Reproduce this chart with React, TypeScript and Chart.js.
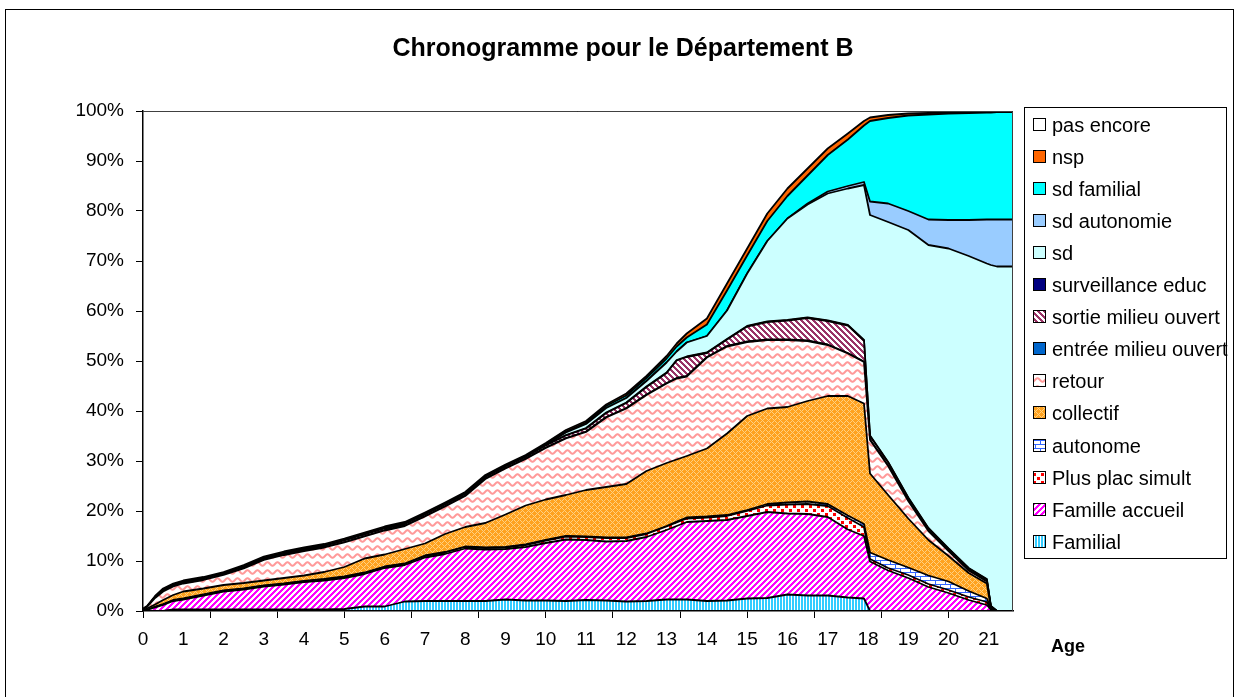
import { useEffect, useRef } from 'react';
import { Chart, registerables } from 'chart.js';

Chart.register(...registerables);

const FONT = "'Liberation Sans', Arial, Helvetica, sans-serif";
const TITLE = 'Chronogramme pour le Département B';
const AXIS_TITLE_X = 'Age';

// x positions (age in years)
const ages = [0, 0.1, 0.3, 0.5, 0.75, 1, 1.5, 2, 2.5, 3, 3.5, 4, 4.5, 5, 5.5, 6, 6.5, 7, 7.5, 8, 8.5, 9, 9.5, 10, 10.5, 11, 11.5, 12, 12.5, 13, 13.25, 13.5, 14, 14.5, 15, 15.5, 16, 16.5, 17, 17.5, 17.9, 18.05, 18.5, 19, 19.5, 20, 20.5, 20.95, 21.05, 21.2, 21.6];

// tick labels on the age axis
const ageLabels = [0, 1, 2, 3, 4, 5, 6, 7, 8, 9, 10, 11, 12, 13, 14, 15, 16, 17, 18, 19, 20, 21];
const tickMarkMonths = 20;
const yTicks = [0, 10, 20, 30, 40, 50, 60, 70, 80, 90, 100];

// series values (% of the cohort), bottom of the stack first
const familial = [0, 0, 0, 0, 0.3, 0.3, 0.3, 0.3, 0.3, 0.3, 0.3, 0.3, 0.3, 0.4, 0.9, 0.9, 1.9, 2.0, 2.0, 2.0, 2.0, 2.3, 2.1, 2.1, 2.0, 2.2, 2.1, 1.9, 2.0, 2.3, 2.3, 2.3, 2.0, 2.1, 2.5, 2.6, 3.3, 3.1, 3.1, 2.7, 2.5, 0, 0, 0, 0, 0, 0, 0, 0, 0, 0];
const familleAccueil = [0, 0.2, 0.7, 1.2, 1.7, 2.0, 2.8, 3.6, 4.0, 4.6, 5.0, 5.5, 5.8, 6.2, 6.5, 7.7, 7.3, 8.7, 9.4, 10.5, 10.3, 10.1, 10.7, 11.5, 12.3, 12.0, 11.8, 12.1, 12.8, 13.9, 14.7, 15.5, 16.0, 16.1, 16.5, 17.2, 16.2, 16.3, 15.7, 13.6, 12.5, 9.9, 8.1, 6.6, 4.8, 3.6, 2.2, 1.2, 0.3, 0, 0];
const plusPlacSimult = [0, 0, 0.1, 0.1, 0.1, 0.1, 0.1, 0.1, 0.1, 0.1, 0.1, 0.1, 0.2, 0.2, 0.2, 0.2, 0.2, 0.3, 0.3, 0.3, 0.3, 0.3, 0.4, 0.5, 0.6, 0.6, 0.7, 0.6, 0.6, 0.7, 0.7, 0.7, 0.7, 0.8, 1.0, 1.3, 1.8, 2.0, 2.2, 2.3, 1.8, 0.5, 0.5, 0.6, 0.6, 0.6, 0.6, 0.6, 0.1, 0, 0];
const autonome = [0, 0, 0.1, 0.1, 0.1, 0.1, 0.1, 0.1, 0.1, 0.1, 0.1, 0.1, 0.1, 0.1, 0.1, 0.1, 0.1, 0.1, 0.1, 0.1, 0.1, 0.1, 0.1, 0.1, 0.1, 0.1, 0.1, 0.1, 0.1, 0.1, 0.2, 0.2, 0.2, 0.2, 0.2, 0.3, 0.4, 0.5, 0.4, 0.5, 0.6, 1.3, 1.6, 1.5, 1.7, 1.7, 1.2, 0.7, 0.2, 0, 0];
const collectif = [0, 0.3, 0.4, 0.8, 1.0, 1.4, 1.2, 1.1, 1.1, 1.0, 1.1, 1.1, 1.4, 1.9, 2.8, 2.4, 2.9, 2.4, 3.6, 3.9, 4.9, 6.5, 7.8, 8.1, 8.2, 9.3, 10.1, 10.7, 12.5, 12.6, 12.4, 12.3, 13.6, 16.3, 18.8, 19.1, 19.1, 20.1, 21.6, 23.9, 24.1, 15.8, 13.0, 9.8, 7.1, 5.1, 3.6, 3.0, 0.1, 0, 0];
const retour = [0.3, 0.3, 1.3, 1.7, 1.7, 1.6, 1.7, 2.0, 2.9, 4.1, 4.6, 4.9, 4.9, 4.9, 4.4, 4.8, 4.6, 5.4, 5.5, 6.2, 8.8, 9.2, 9.3, 10.3, 11.3, 11.6, 13.9, 15.1, 15.2, 15.9, 16.2, 15.9, 18.2, 17.4, 14.8, 13.7, 13.4, 12.0, 10.2, 8.5, 8.3, 6.7, 5.8, 3.5, 1.8, 1.0, 0.5, 0.4, 0.1, 0, 0];
const entreeMilieuOuvert = [0, 0, 0.1, 0.1, 0.1, 0.1, 0.1, 0.1, 0.1, 0.1, 0.1, 0.1, 0.1, 0.1, 0.1, 0.1, 0.1, 0.1, 0.1, 0.1, 0.1, 0.1, 0.1, 0.1, 0.1, 0.1, 0.1, 0.1, 0.1, 0.1, 0.1, 0.1, 0.1, 0.1, 0.1, 0.1, 0.1, 0.1, 0.1, 0.1, 0.1, 0.1, 0.1, 0.1, 0.1, 0.1, 0.1, 0.1, 0.1, 0, 0];
const sortieMilieuOuvert = [0, 0, 0.1, 0.2, 0.2, 0.2, 0.2, 0.2, 0.2, 0.2, 0.2, 0.2, 0.2, 0.3, 0.3, 0.3, 0.3, 0.3, 0.3, 0.3, 0.3, 0.3, 0.3, 0.4, 0.5, 0.6, 0.8, 1.0, 1.5, 2.0, 3.5, 3.8, 0.8, 1.3, 3.0, 3.5, 3.8, 4.5, 4.7, 5.5, 4.2, 0.7, 0.6, 0.5, 0.4, 0.3, 0.3, 0.3, 0.1, 0, 0];
const surveillanceEduc = [0, 0, 0, 0.1, 0.1, 0.1, 0.1, 0.1, 0.1, 0.1, 0.1, 0.1, 0.1, 0.1, 0.1, 0.1, 0.1, 0.1, 0.1, 0.1, 0.1, 0.1, 0.1, 0.1, 0.1, 0.1, 0.1, 0.1, 0.1, 0.1, 0.1, 0.1, 0.1, 0.1, 0.1, 0.1, 0.1, 0.1, 0.1, 0.1, 0.1, 0.1, 0.1, 0.1, 0.1, 0.1, 0.1, 0.1, 0, 0, 0];
const sd = [0, 0, 0, 0, 0, 0, 0, 0, 0, 0, 0, 0, 0, 0, 0, 0, 0, 0, 0, 0, 0, 0, 0, 0, 0.5, 0.8, 0.9, 0.9, 1.1, 2.0, 1.7, 2.8, 3.3, 5.7, 10.5, 16.1, 20.3, 22.6, 25.4, 27.3, 31.0, 44.1, 48.0, 53.5, 56.6, 60.0, 62.4, 63.1, 68.2, 68.9, 68.9];
const sdAutonomie = [0, 0, 0, 0, 0, 0, 0, 0, 0, 0, 0, 0, 0, 0, 0, 0, 0, 0, 0, 0, 0, 0, 0, 0, 0, 0, 0, 0, 0, 0, 0, 0, 0, 0, 0, 0, 0, 0.2, 0.4, 0.5, 0.6, 2.7, 3.7, 3.8, 5.1, 5.7, 7.2, 8.8, 9.1, 9.4, 9.4];
const sdFamilial = [0, 0, 0, 0, 0, 0, 0, 0, 0, 0, 0, 0, 0, 0, 0, 0, 0, 0, 0, 0, 0, 0, 0, 0.1, 0.2, 0.3, 0.4, 0.5, 0.6, 0.8, 1.0, 1.0, 2.3, 4.0, 3.6, 4.0, 4.5, 5.6, 7.3, 9.3, 11.3, 16.1, 17.1, 19.1, 21.0, 21.3, 21.4, 21.4, 21.4, 21.5, 21.5];
const nsp = [0.2, 0.2, 0.2, 0.2, 0.2, 0.2, 0.2, 0.2, 0.3, 0.3, 0.3, 0.3, 0.3, 0.3, 0.3, 0.3, 0.3, 0.3, 0.3, 0.3, 0.3, 0.3, 0.3, 0.3, 0.3, 0.3, 0.3, 0.4, 0.4, 0.5, 0.6, 0.8, 1.2, 1.4, 1.4, 1.5, 1.5, 1.4, 1.3, 1.2, 0.9, 0.7, 0.6, 0.4, 0.3, 0.2, 0.2, 0.2, 0.2, 0.2, 0.2];
const pasEncore = [99.5, 99.0, 97.0, 95.5, 94.5, 93.9, 93.2, 92.2, 90.8, 89.1, 88.1, 87.3, 86.6, 85.5, 84.3, 83.1, 82.2, 80.3, 78.3, 76.2, 72.8, 70.7, 68.8, 66.4, 63.8, 62.0, 58.7, 56.5, 53.0, 49.0, 46.5, 44.5, 41.5, 34.5, 27.5, 20.5, 15.5, 11.5, 7.5, 4.5, 2.0, 1.3, 0.8, 0.5, 0.4, 0.3, 0.2, 0.1, 0.1, 0, 0];

function tile(w: number, h: number, draw: (g: CanvasRenderingContext2D) => void): CanvasPattern | string {
  const c = document.createElement('canvas');
  c.width = w;
  c.height = h;
  const g = c.getContext('2d');
  if (!g) return '#ccc';
  draw(g);
  return g.createPattern(c, 'repeat') || '#ccc';
}

function pixels(w: number, h: number, pick: (x: number, y: number) => string) {
  return tile(w, h, (g) => {
    for (let x = 0; x < w; x++) {
      for (let y = 0; y < h; y++) {
        g.fillStyle = pick(x, y);
        g.fillRect(x, y, 1, 1);
      }
    }
  });
}

function makeFills() {
  return {
    familial: tile(3, 2, (g) => {
      g.fillStyle = '#FFFFFF';
      g.fillRect(0, 0, 3, 2);
      g.fillStyle = '#33CCFF';
      g.fillRect(0, 0, 2, 2);
    }),
    familleAccueil: pixels(6, 6, (x, y) => ((x + y) % 6 < 3 ? '#FF00FF' : '#FFFFFF')),
    plusPlac: tile(8, 8, (g) => {
      g.fillStyle = '#FFFFFF';
      g.fillRect(0, 0, 8, 8);
      g.fillStyle = '#FF0000';
      g.fillRect(1, 1, 3, 3);
      g.fillRect(5, 5, 3, 3);
    }),
    autonome: tile(10, 8, (g) => {
      g.fillStyle = '#FFFFFF';
      g.fillRect(0, 0, 10, 8);
      g.fillStyle = '#3366FF';
      g.fillRect(0, 0, 10, 1);
      g.fillRect(0, 4, 10, 1);
      g.fillRect(0, 0, 1, 4);
      g.fillRect(5, 4, 1, 4);
    }),
    collectif: pixels(6, 6, (x, y) => ((x + y) % 6 === 0 || (x - y + 6) % 6 === 0 ? '#FFD080' : '#FFA21F')),
    retour: tile(10, 8, (g) => {
      g.fillStyle = '#FFFFFF';
      g.fillRect(0, 0, 10, 8);
      g.strokeStyle = '#FF9999';
      g.lineWidth = 2;
      g.lineJoin = 'round';
      g.beginPath();
      for (let i = -2; i <= 22; i++) {
        const x = i * 0.5;
        const y = 4 + 1.8 * Math.sin((2 * Math.PI * x) / 10);
        if (i === -2) g.moveTo(x, y);
        else g.lineTo(x, y);
      }
      g.stroke();
    }),
    sortie: pixels(6, 6, (x, y) => ((x - y + 6) % 6 < 3 ? '#993366' : '#FFFFFF')),
  };
}

function isMark(v: number | undefined) {
  if (v === undefined || v === null) return false;
  const k = (v * 12) / tickMarkMonths;
  return Math.abs(k - Math.round(k)) < 1e-6;
}

export default function App() {
  const ref = useRef<HTMLCanvasElement>(null);

  useEffect(() => {
    const canvas = ref.current;
    if (!canvas) return;
    const f = makeFills();

    const series: { label: string; values: number[]; fill: any }[] = [
      { label: 'Familial', values: familial, fill: f.familial },
      { label: 'Famille accueil', values: familleAccueil, fill: f.familleAccueil },
      { label: 'Plus plac simult', values: plusPlacSimult, fill: f.plusPlac },
      { label: 'autonome', values: autonome, fill: f.autonome },
      { label: 'collectif', values: collectif, fill: f.collectif },
      { label: 'retour', values: retour, fill: f.retour },
      { label: 'entrée milieu ouvert', values: entreeMilieuOuvert, fill: '#0066CC' },
      { label: 'sortie milieu ouvert', values: sortieMilieuOuvert, fill: f.sortie },
      { label: 'surveillance educ', values: surveillanceEduc, fill: '#000080' },
      { label: 'sd', values: sd, fill: '#CCFFFF' },
      { label: 'sd autonomie', values: sdAutonomie, fill: '#99CCFF' },
      { label: 'sd familial', values: sdFamilial, fill: '#00FFFF' },
      { label: 'nsp', values: nsp, fill: '#FF6600' },
      { label: 'pas encore', values: pasEncore, fill: '#FFFFFF' },
    ];

    const maxAge = ages[ages.length - 1];

    const decor = {
      id: 'decor',
      afterDraw(chart: any) {
        const { ctx, chartArea: a } = chart;
        ctx.save();
        // plot area frame (top & right)
        ctx.strokeStyle = '#404040';
        ctx.lineWidth = 1;
        ctx.beginPath();
        ctx.moveTo(a.left, a.top + 0.5);
        ctx.lineTo(a.right - 0.5, a.top + 0.5);
        ctx.lineTo(a.right - 0.5, a.bottom);
        ctx.stroke();
        // outer frame
        ctx.strokeStyle = '#000';
        ctx.strokeRect(5.5, 9.5, 1228, 700);
        // title
        ctx.fillStyle = '#000';
        ctx.textAlign = 'center';
        ctx.textBaseline = 'alphabetic';
        ctx.font = `bold 25px ${FONT}`;
        ctx.fillText(TITLE, 623, 56);
        // x axis title
        ctx.font = `bold 18px ${FONT}`;
        ctx.textBaseline = 'middle';
        ctx.fillText(AXIS_TITLE_X, 1068, 647);
        // legend
        ctx.strokeStyle = '#000';
        ctx.strokeRect(1024.5, 107.5, 202, 451);
        ctx.font = `20px ${FONT}`;
        ctx.textAlign = 'left';
        ctx.textBaseline = 'middle';
        const ds = [...chart.data.datasets].reverse();
        ds.forEach((d: any, i: number) => {
          const y = Math.round(125 + i * 32.05);
          ctx.fillStyle = d.backgroundColor;
          ctx.fillRect(1034, y - 6, 11, 11);
          ctx.strokeStyle = '#000';
          ctx.strokeRect(1033.5, y - 6.5, 12, 12);
          ctx.fillStyle = '#000';
          ctx.fillText(d.label, 1052, y + 1);
        });
        ctx.restore();
      },
    };

    const chart = new Chart(canvas, {
      type: 'line',
      data: {
        datasets: series.map((s, i) => ({
          label: s.label,
          data: ages.map((a, j) => ({ x: a, y: s.values[j] })),
          backgroundColor: s.fill,
          borderColor: '#000',
          borderWidth: 1.8,
          pointRadius: 0,
          tension: 0,
          fill: i === 0 ? 'origin' : '-1',
        })),
      },
      options: {
        animation: false,
        responsive: false,
        maintainAspectRatio: false,
        devicePixelRatio: 1,
        events: [],
        layout: { padding: { left: 0, top: 111, right: 226, bottom: 26 } },
        elements: { line: { borderJoinStyle: 'round' } },
        plugins: {
          legend: { display: false },
          tooltip: { enabled: false },
          title: { display: false },
        },
        scales: {
          x: {
            type: 'linear',
            min: 0,
            max: maxAge,
            afterBuildTicks: (scale: any) => {
              const vals: number[] = [...ageLabels];
              for (let m = 0; m / 12 <= maxAge + 1e-9; m += tickMarkMonths) {
                const v = m / 12;
                if (!vals.some((u) => Math.abs(u - v) < 1e-6)) vals.push(v);
              }
              vals.sort((p, q) => p - q);
              scale.ticks = vals.map((v) => ({ value: v }));
            },
            afterFit: (scale: any) => {
              scale.height = 60;
            },
            ticks: {
              autoSkip: false,
              maxRotation: 0,
              minRotation: 0,
              padding: 10,
              color: '#000',
              font: { family: FONT, size: 19 },
              callback: (v: any) => (ageLabels.includes(v) ? String(v) : ''),
            },
            grid: {
              z: 1,
              drawOnChartArea: false,
              drawTicks: true,
              tickLength: 7,
              tickWidth: 1,
              tickColor: (c: any) => (isMark(c.tick && c.tick.value) ? '#000' : 'rgba(0,0,0,0)'),
            },
            border: { display: true, color: '#000', width: 1.5, z: 2 },
          },
          y: {
            type: 'linear',
            stacked: true,
            min: 0,
            max: 100,
            afterBuildTicks: (scale: any) => {
              scale.ticks = yTicks.map((v) => ({ value: v }));
            },
            afterFit: (scale: any) => {
              scale.width = 143;
            },
            ticks: {
              padding: 12,
              color: '#000',
              font: { family: FONT, size: 19 },
              callback: (v: any) => `${v}%`,
            },
            grid: {
              z: 1,
              drawOnChartArea: false,
              drawTicks: true,
              tickLength: 7,
              tickWidth: 1,
              tickColor: '#000',
            },
            border: { display: true, color: '#000', width: 1.5, z: 2 },
          },
        },
      } as any,
      plugins: [decor],
    });

    return () => chart.destroy();
  }, []);

  return (
    <div style={{ position: 'fixed', left: 0, top: 0, width: 1239, height: 697, background: '#fff' }}>
      <canvas ref={ref} width={1239} height={697} style={{ display: 'block' }} />
    </div>
  );
}
